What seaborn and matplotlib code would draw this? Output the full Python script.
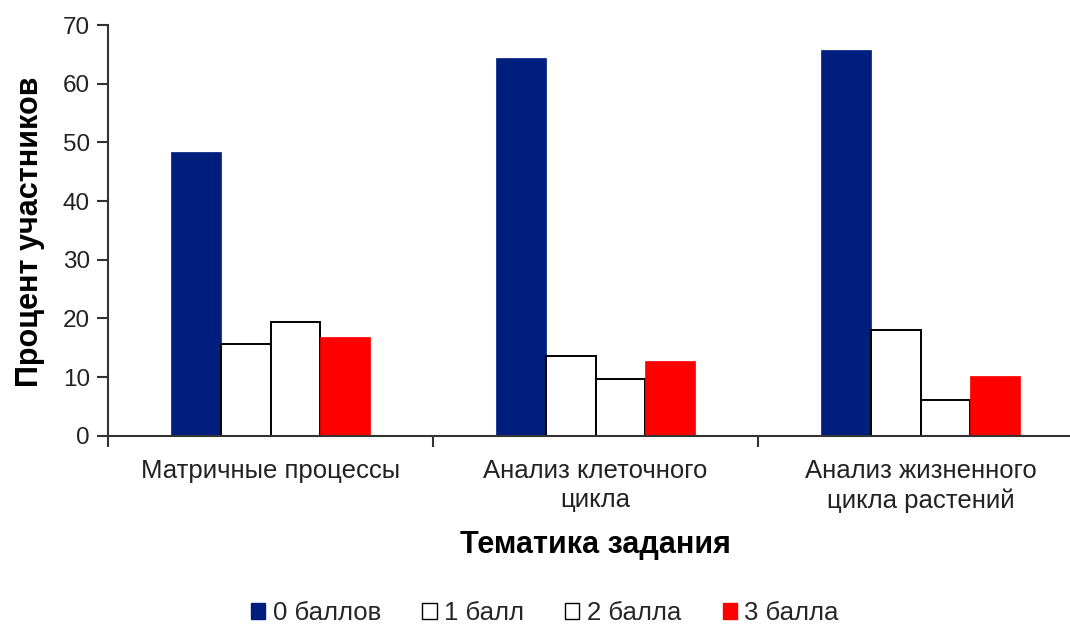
import matplotlib
matplotlib.use("Agg")
import matplotlib.pyplot as plt
import seaborn as sns
import pandas as pd
from matplotlib.patches import Patch

categories = ["Матричные процессы", "Анализ клеточного\nцикла", "Анализ жизненного\nцикла растений"]
series_names = ["0 баллов", "1 балл", "2 балла", "3 балла"]
v0 = [48.3, 64.4, 65.7]
v1 = [15.7, 13.6, 18.0]
v2 = [19.4, 9.7, 6.0]
v3 = [16.8, 12.7, 10.1]
yticks = [0, 10, 20, 30, 40, 50, 60, 70]

face_colors = ["#001E7E", "#FFFFFF", "#FFFFFF", "#FF0000"]
edge_colors = ["#001E7E", "#000000", "#000000", "#FF0000"]

rows = []
for name, vals in zip(series_names, [v0, v1, v2, v3]):
    for c, v in zip(categories, vals):
        rows.append({"cat": c, "series": name, "value": v})
df = pd.DataFrame(rows)

sns.set_theme(style="white")
plt.rcParams["font.family"] = ["Liberation Sans", "DejaVu Sans"]

fig = plt.figure(figsize=(10.70, 6.28), dpi=100)
W, H = 1070, 628
ax = fig.add_axes([108 / W, (H - 435.7) / H, 975 / W, 410.7 / H])

sns.barplot(data=df, x="cat", y="value", hue="series", order=categories,
            hue_order=series_names, palette=face_colors, width=0.615, gap=0,
            dodge=True, legend=False, ax=ax, saturation=1)

for cont, fc, ec in zip(ax.containers, face_colors, edge_colors):
    for p in cont:
        p.set_facecolor(fc)
        p.set_edgecolor(ec)
        p.set_linewidth(1.4 if fc == "#FFFFFF" else 0.5)

ax.set_xlim(-0.5, 2.5)
ax.set_ylim(0, 70)
ax.set_yticks(yticks)
ax.set_yticklabels([str(t) for t in yticks], fontsize=17.5, color="#222222")

# category labels centered, ticks at boundaries
ax.set_xticks([0, 1, 2])
ax.set_xticklabels(categories, fontsize=18.5, color="#222222", linespacing=1.25)
ax.tick_params(axis="x", length=0, pad=17)
ax.set_xticks([-0.5, 0.5, 1.5, 2.5], minor=True)
ax.tick_params(axis="x", which="minor", length=8, width=1.5, color="#333333", direction="out", bottom=True)
ax.tick_params(axis="y", length=8, width=1.5, color="#333333", direction="out", left=True, pad=5)

for s in ["top", "right"]:
    ax.spines[s].set_visible(False)
for s in ["left", "bottom"]:
    ax.spines[s].set_color("#333333")
    ax.spines[s].set_linewidth(1.5)

ax.set_xlabel("Тематика задания", fontsize=22, fontweight="bold", color="#000000")
ax.set_ylabel("Процент участников", fontsize=22, fontweight="bold", color="#000000")
ax.xaxis.set_label_coords((595 - 108) / 975, -(545 - 435.7) / 410.7)
ax.yaxis.set_label_coords(-(108 - 30) / 975, (435.7 - 232) / 410.7)
ax.xaxis.label.set_va("center")
ax.yaxis.label.set_va("center")

handles = [Patch(facecolor=fc, edgecolor=ec, linewidth=1.0) for fc, ec in zip(face_colors, edge_colors)]
fig.legend(handles, series_names, loc="center", bbox_to_anchor=(545 / W, 1 - 613 / H), ncol=4,
           frameon=False, fontsize=18.5, handlelength=0.55, handleheight=0.55, handletextpad=0.3,
           columnspacing=1.6)

fig.savefig("out.png", dpi=100)
